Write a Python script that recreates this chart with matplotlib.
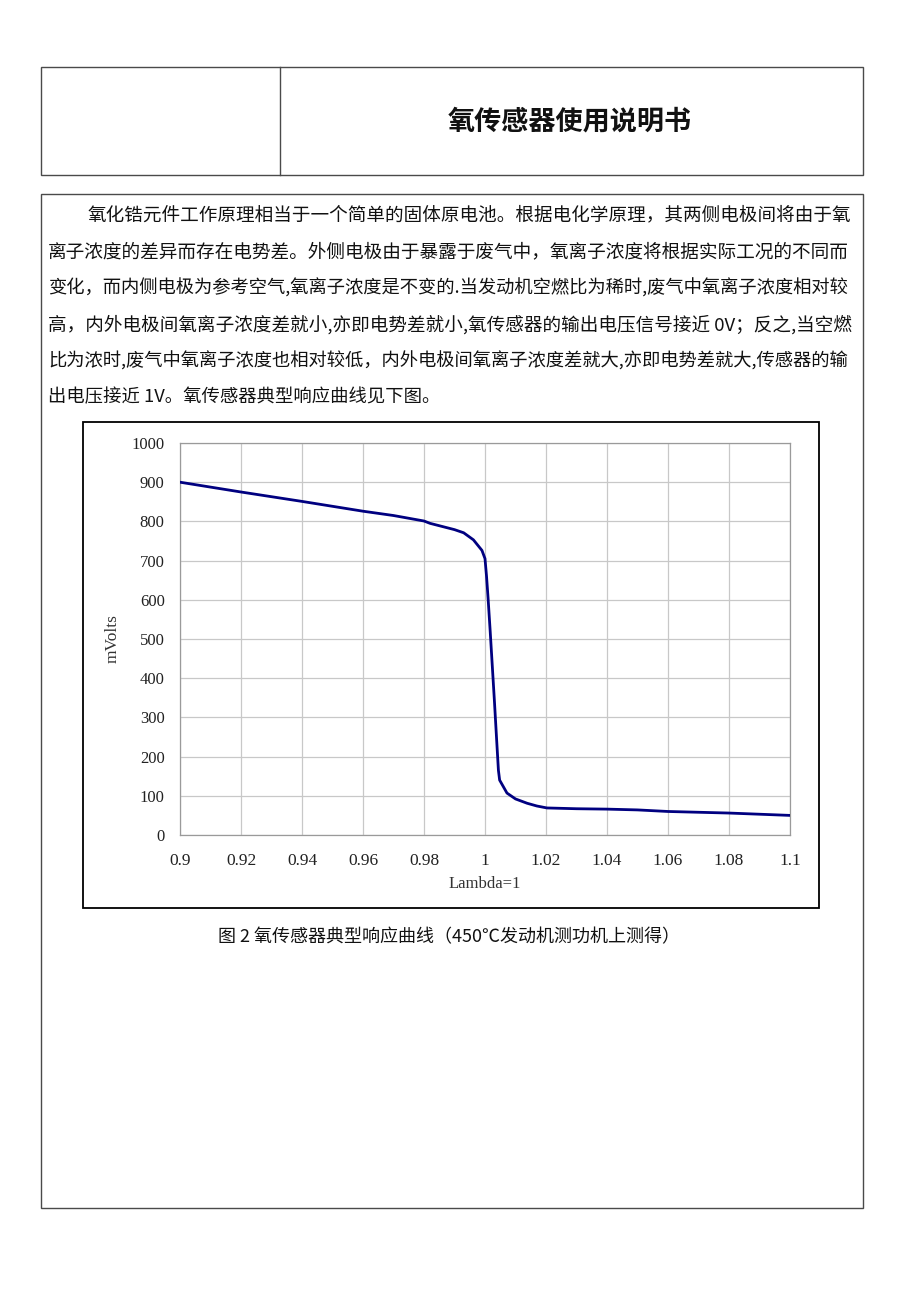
import matplotlib
matplotlib.use("Agg")
import matplotlib.pyplot as plt
from matplotlib.patches import Rectangle

plt.rcParams['font.family'] = ['Noto Sans CJK SC', 'DejaVu Sans']

# ---------------- data ----------------
lambda_vals = [0.900, 0.920, 0.940, 0.960, 0.970, 0.975, 0.980, 0.982, 0.986, 0.990,
               0.993, 0.9962, 0.999, 1.0000, 1.0005, 1.0010, 1.0017, 1.0024, 1.0031,
               1.0038, 1.0044, 1.0048, 1.0072, 1.0100, 1.0138, 1.0170, 1.0203, 1.030,
               1.040, 1.050, 1.060, 1.080, 1.100]
mvolts = [900, 875, 851, 826, 815, 808, 801, 795, 787, 779,
          771, 753, 726, 705, 660, 605, 520, 430, 340,
          245, 165, 140, 107, 92, 81, 74, 69, 67,
          66, 64, 60, 56, 50]
x_ticks = [0.9, 0.92, 0.94, 0.96, 0.98, 1.0, 1.02, 1.04, 1.06, 1.08, 1.1]
x_tick_labels = ["0.9", "0.92", "0.94", "0.96", "0.98", "1", "1.02", "1.04", "1.06", "1.08", "1.1"]
y_ticks = [0, 100, 200, 300, 400, 500, 600, 700, 800, 900, 1000]

title_text = "氧传感器使用说明书"
body_lines = [
    "氧化锆元件工作原理相当于一个简单的固体原电池。根据电化学原理，其两侧电极间将由于氧",
    "离子浓度的差异而存在电势差。外侧电极由于暴露于废气中，氧离子浓度将根据实际工况的不同而",
    "变化，而内侧电极为参考空气,氧离子浓度是不变的.当发动机空燃比为稀时,废气中氧离子浓度相对较",
    "高，内外电极间氧离子浓度差就小,亦即电势差就小,氧传感器的输出电压信号接近 0V；反之,当空燃",
    "比为浓时,废气中氧离子浓度也相对较低，内外电极间氧离子浓度差就大,亦即电势差就大,传感器的输",
    "出电压接近 1V。氧传感器典型响应曲线见下图。",
]
caption_text = "图 2 氧传感器典型响应曲线（450℃发动机测功机上测得）"

# ---------------- figure ----------------
W, H = 920, 1302
fig = plt.figure(figsize=(W / 100, H / 100), dpi=100)
page = fig.add_axes([0, 0, 1, 1])
page.set_xlim(0, W)
page.set_ylim(H, 0)
page.axis('off')

border = '#4a4a4a'
page.add_patch(Rectangle((41.5, 66.5), 822, 108, fill=False, ec=border, lw=1.0))
page.plot([280.5, 280.5], [66.5, 174.5], color=border, lw=1.0)
page.add_patch(Rectangle((41.5, 193.5), 822, 1014, fill=False, ec=border, lw=1.0))

page.text(570, 121, title_text, fontsize=19.5, fontweight='bold', ha='center', va='center',
          color='#111111')

renderer = fig.canvas.get_renderer()
line_y = [215, 251.5, 288, 324.5, 361, 397.5]
right_edge = 852
base_fs = 13.2
for i, (txt, y) in enumerate(zip(body_lines, line_y)):
    x0 = 88 if i == 0 else 48
    t = page.text(x0, y, txt, fontsize=base_fs, ha='left', va='center', color='#111111')
    if i < len(body_lines) - 1:
        w = t.get_window_extent(renderer).width
        fs = base_fs * (right_edge - x0) / w
        fs = max(12.4, min(14.0, fs))
        t.set_fontsize(fs)

# chart frame
page.add_patch(Rectangle((83.5, 421.5), 736, 486, fill=False, ec='black', lw=1.3))

cap = page.text(449, 937, caption_text, fontsize=13, ha='center', va='center', color='#111111')
w = cap.get_window_extent(renderer).width
cap.set_fontsize(13 * 462 / w)

# ---------------- chart ----------------
ax = fig.add_axes([180 / W, (H - 835) / H, 610 / W, (835 - 443) / H])
ax.plot(lambda_vals, mvolts, color='#000080', lw=2.0, solid_capstyle='round',
        solid_joinstyle='round', zorder=3)
ax.set_xlim(0.9, 1.1)
ax.set_ylim(0, 1000)
ax.set_xticks(x_ticks)
ax.set_xticklabels(x_tick_labels)
ax.set_yticks(y_ticks)
ax.grid(True, color='#c8c8c8', lw=0.9)
ax.set_axisbelow(True)
for s in ax.spines.values():
    s.set_color('#9a9a9a')
    s.set_linewidth(0.9)
ax.tick_params(axis='y', length=0, labelsize=12, labelcolor='#222222', pad=11)
ax.tick_params(axis='x', length=0, labelsize=12.5, labelcolor='#222222', pad=13)
for lab in ax.get_xticklabels() + ax.get_yticklabels():
    lab.set_family(['Liberation Serif', 'DejaVu Serif'])
ax.set_ylabel("mVolts", fontsize=12.5, family=['Liberation Serif'], color='#333333', labelpad=8)
ax.set_xlabel("Lambda=1", fontsize=12, family=['Liberation Serif'], color='#333333', labelpad=5)

fig.savefig("out.png", dpi=100)
